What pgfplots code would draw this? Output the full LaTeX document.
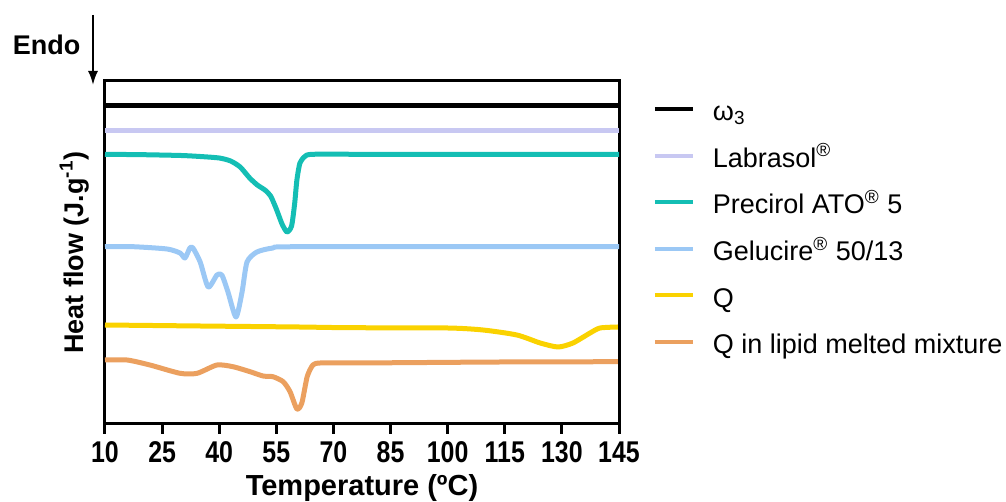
\documentclass[border=0pt]{standalone}
\usepackage{pgfplots}
\pgfplotsset{compat=1.18}
\usetikzlibrary{arrows.meta}
\usepackage{fontspec}
\setmainfont{Liberation Sans}
\newfontfamily\tickfont[FakeStretch=0.83]{Liberation Sans}
\definecolor{cLab}{RGB}{200,200,242}
\definecolor{cPre}{RGB}{20,190,180}
\definecolor{cGel}{RGB}{155,200,245}
\definecolor{cQ}{RGB}{250,210,0}
\definecolor{cMix}{RGB}{235,160,95}
\begin{document}
\begin{tikzpicture}
\useasboundingbox (-52.5pt,-39pt) rectangle (450.5pt,212pt);
\begin{axis}[
  scale only axis, width=257pt, height=171.5pt,
  xmin=10, xmax=145, ymin=0, ymax=343,
  xtick={10,25,...,145}, ytick=\empty,
  axis line style={line width=1.5pt},
  every tick/.style={black, line width=1.5pt},
  major tick length=5pt, tick align=outside, xtick pos=left,
  /pgf/number format/assume math mode=true,
  xticklabel style={font=\tickfont\bfseries\fontsize{15}{15}\selectfont, inner sep=3.5pt},
  xlabel={Temperature (ºC)},
  xlabel style={font=\bfseries\fontsize{14.5}{14.5}\selectfont, at={(axis description cs:0.5,-0.207)}, anchor=base},
  ylabel={Heat flow (J.g\textsuperscript{-1})},
  ylabel style={font=\bfseries\fontsize{13.5}{13.5}\selectfont, at={(axis description cs:-0.0428,0.5)}, anchor=base},
  legend style={at={(axis description cs:1.066,0.966)}, anchor=north west, draw=none, fill=none,
    inner sep=0pt, outer sep=0pt, row sep=0pt,
    font=\fontsize{13.5}{13.5}\selectfont,
    nodes={inner sep=0pt, text height=14pt, text depth=9.3pt},
    /tikz/every odd column/.append style={column sep=9pt}},
  legend cell align=left,
  legend image code/.code={\draw[#1, line width=2pt] (0pt,0.35em) -- (19pt,0.35em);},
  every axis plot/.append style={line width=2.5pt, line join=round, no markers},
]
\addplot[black] coordinates {(10,318) (145,318)};
\addlegendentry{ω\textsubscript{3}}
\addplot[cLab] coordinates {(10,293) (145,293)};
\addlegendentry{Labrasol\textsuperscript{®}}
\addplot[cPre, smooth, tension=0.4] coordinates {
(10,269.7)(20,269.3)(30,268.5)(35,267.5)(40,266)(43,263)(45.5,257)(48,246)(50,239)(52,234)(53.5,228)(55,215)(56.5,200)(57.8,192)(59,198)(59.8,220)(60.4,244)(61.2,261)(62.5,267.5)(64.6,269.7)(80,269.7)(145,269.5)};
\addlegendentry{Precirol ATO\textsuperscript{®} 5}
\addplot[cGel, smooth, tension=0.4] coordinates {
(10,177.3)(17.4,177.3)(26.3,175)(29.7,171)(31,166)(32.3,176)(33.1,176)(35,162)(37.1,137)(39.4,149)(40.7,149)(42.3,132)(44.4,107)(46,132)(47.3,162)(49.9,172)(54.1,176)(61.2,177.3)(145,177.3)};
\addlegendentry{Gelucire\textsuperscript{®} 50/13}
\addplot[cQ, smooth, tension=0.4] coordinates {
(10,99)(35,98)(61,97)(74,96.3)(100,96)(109.3,94)(118.2,89)(124.3,81)(129,77)(132.9,81)(137.4,91)(140,96)(144.7,97)};
\addlegendentry{Q}
\addplot[cMix, smooth, tension=0.4] coordinates {
(10,64)(15.8,64)(21.8,59)(29.7,50.7)(34.2,50.7)(39.4,59)(43.6,57.3)(48.1,52.3)(51.5,48)(54.1,47.3)(56.8,42.3)(58.6,32.3)(60.4,15)(61.7,21)(63.1,47.3)(64.6,59)(66.5,61)(74.3,61)(87.5,61.3)(113.7,62)(144.7,62.3)};
\addlegendentry{Q in lipid melted mixture}
\end{axis}
\node[font=\bfseries\fontsize{13.5}{13.5}\selectfont, anchor=center] at (-29.25pt,189.5pt) {Endo};
\draw[line width=1pt, -{Latex[length=7pt,width=5pt]}] (-6pt,204.5pt) -- (-6pt,169.5pt);
\end{tikzpicture}
\end{document}
